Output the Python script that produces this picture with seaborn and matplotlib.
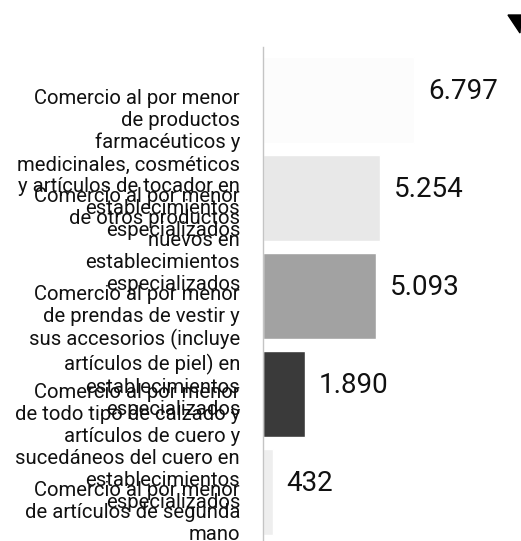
import matplotlib
matplotlib.use("Agg")
import matplotlib.pyplot as plt
from matplotlib.patches import Polygon
import seaborn as sns


categories = [
    "Comercio al por menor\nde productos\nfarmacéuticos y\nmedicinales, cosméticos\ny artículos de tocador en\nestablecimientos\nespecializados",
    "Comercio al por menor\nde otros productos\nnuevos en\nestablecimientos\nespecializados",
    "Comercio al por menor\nde prendas de vestir y\nsus accesorios (incluye\nartículos de piel) en\nestablecimientos\nespecializados",
    "Comercio al por menor\nde todo tipo de calzado y\nartículos de cuero y\nsucedáneos del cuero en\nestablecimientos\nespecializados",
    "Comercio al por menor\nde artículos de segunda\nmano",
]
values = [6797, 5254, 5093, 1890, 432]
bar_colors = ["#fcfcfc", "#e8e8e8", "#a2a2a2", "#3a3a3a", "#eeeeee"]


def fmt(v):
    # thousands separator with a dot
    return f"{v:,}".replace(",", ".")


def main():
    sns.set_style("white")
    plt.rcParams["font.family"] = ["Roboto", "DejaVu Sans"]

    fig = plt.figure(figsize=(5.21, 5.41), dpi=100)
    ax = fig.add_axes([0.5048, 0.0, 0.470, 0.9131])

    sns.barplot(x=values, y=categories, hue=categories, palette=bar_colors,
                legend=False, orient="h", width=0.87, ax=ax)

    ax.set_xlim(0, 11000)
    ax.set_ylim(4.5, -0.54)
    ax.set_xlabel("")
    ax.set_ylabel("")
    ax.set_xticks([])

    for s in ["top", "right", "bottom"]:
        ax.spines[s].set_visible(False)
    ax.spines["left"].set_color("#c4c4c4")
    ax.spines["left"].set_linewidth(1.0)
    ax.tick_params(axis="y", length=8.5, width=1.0, color="#b0b0b0")
    ax.set_yticks(range(len(categories)))
    ax.set_yticklabels([])

    # category labels: first line sits on the tick, rest runs downwards
    for i, cat in enumerate(categories):
        ax.annotate(cat, xy=(0, i), xycoords=("axes fraction", "data"),
                    xytext=(-16.5, 8), textcoords="offset points",
                    ha="right", va="top", multialignment="right",
                    fontsize=14.6, color="#111111")

    # value labels next to each bar
    for i, v in enumerate(values):
        ax.annotate(fmt(v), (v, i), xytext=(10, 6), textcoords="offset points",
                    va="center", ha="left", fontsize=20, color="#111111")

    # dark corner mark in the top right
    fig.patches.append(Polygon([(508 / 521, 1 - 15 / 541), (1.0, 1 - 15 / 541),
                                (520 / 521, 1 - 33 / 541)], closed=True,
                               color="black", transform=fig.transFigure))

    fig.savefig("out.png", dpi=100)


if __name__ == "__main__":
    main()
